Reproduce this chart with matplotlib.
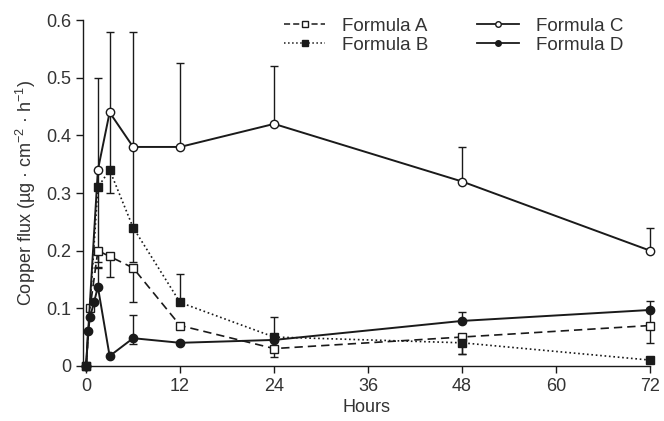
import matplotlib
matplotlib.use("Agg")
import matplotlib.pyplot as plt
from matplotlib.lines import Line2D

plt.rcParams['font.family'] = ['Liberation Sans', 'DejaVu Sans']
plt.rcParams['mathtext.fontset'] = 'custom'
plt.rcParams['mathtext.rm'] = 'Liberation Sans'
plt.rcParams['mathtext.it'] = 'Liberation Sans'

# Formula A (open square, dashed)
t_a = [0, 0.5, 1.5, 3, 6, 12, 24, 48, 72]
v_a = [0, 0.10, 0.20, 0.19, 0.17, 0.07, 0.03, 0.05, 0.07]
err_a_lo = [0, 0, 0.03, 0.035, 0.06, 0.0, 0.015, 0.03, 0.03]
err_a_hi = [0, 0, 0.0, 0.0, 0.0, 0.0, 0.0, 0.0, 0.03]

# Formula B (filled square, dotted)
t_b = [0, 1.5, 3, 6, 12, 24, 48, 72]
v_b = [0, 0.31, 0.34, 0.24, 0.11, 0.05, 0.04, 0.01]
err_b_lo = [0, 0, 0, 0, 0, 0, 0.02, 0]
err_b_hi = [0, 0, 0, 0, 0.05, 0.035, 0, 0]

# Formula C (open circle, solid)
t_c = [0, 1.5, 3, 6, 12, 24, 48, 72]
v_c = [0, 0.34, 0.44, 0.38, 0.38, 0.42, 0.32, 0.20]
err_c_lo = [0, 0.16, 0.14, 0.20, 0.0, 0.0, 0.0, 0.0]
err_c_hi = [0, 0.16, 0.14, 0.20, 0.145, 0.10, 0.06, 0.04]

# Formula D (filled circle, solid)
t_d = [0, 0.25, 0.5, 1, 1.5, 3, 6, 12, 24, 48, 72]
v_d = [0, 0.06, 0.085, 0.11, 0.137, 0.017, 0.048, 0.04, 0.045, 0.078, 0.097]
err_d_lo = [0, 0, 0, 0, 0, 0, 0.01, 0, 0, 0, 0]
err_d_hi = [0, 0, 0, 0, 0.035, 0, 0.04, 0, 0, 0.015, 0.015]

x_ticks = [0, 12, 24, 36, 48, 60, 72]
y_ticks = [0, 0.1, 0.2, 0.3, 0.4, 0.5, 0.6]
y_tick_labels = ['0', '0.1', '0.2', '0.3', '0.4', '0.5', '0.6']

ink = '#1a1a1a'
txt_col = '#333333'

fig = plt.figure(figsize=(6.64, 4.21), dpi=100)
ax = fig.add_axes([0.125, 0.131, 0.854, 0.821])

common = dict(color=ink, ecolor=ink, elinewidth=1.0, capsize=3, capthick=1.0,
              markersize=6, clip_on=False)

ax.errorbar(t_a, v_a, yerr=[err_a_lo, err_a_hi], fmt='s', linestyle=(0, (5, 3)),
            lw=1.2, mfc='white', mec=ink, **common)
ax.errorbar(t_b, v_b, yerr=[err_b_lo, err_b_hi], fmt='s', linestyle=':',
            lw=1.2, mfc=ink, mec=ink, **common)
ax.errorbar(t_c, v_c, yerr=[err_c_lo, err_c_hi], fmt='o', linestyle='-',
            lw=1.4, mfc='white', mec=ink, **common)
ax.errorbar(t_d, v_d, yerr=[err_d_lo, err_d_hi], fmt='o', linestyle='-',
            lw=1.4, mfc=ink, mec=ink, **common)

ax.set_xlim(-0.4, 72)
ax.set_ylim(0, 0.6)
ax.set_xticks(x_ticks)
ax.set_yticks(y_ticks)
ax.set_yticklabels(y_tick_labels)
ax.spines['top'].set_visible(False)
ax.spines['right'].set_visible(False)
for s in ['left', 'bottom']:
    ax.spines[s].set_linewidth(1.0)
    ax.spines[s].set_color(ink)
ax.tick_params(direction='out', length=5, width=1.0, colors=ink, labelsize=13,
               labelcolor=txt_col)

ax.set_xlabel('Hours', fontsize=13, color=txt_col, labelpad=3)
ax.set_ylabel(r'Copper flux (µg · cm$^{-2}$ · h$^{-1}$)', fontsize=13,
              color=txt_col, labelpad=6)

# legend handles: line + marker only, as in the figure
handles = [
    Line2D([], [], color=ink, lw=1.1, linestyle=(0, (4, 2)), marker='s', ms=4, mfc='white', mec=ink),
    Line2D([], [], color=ink, lw=1.1, linestyle=':', marker='s', ms=4, mfc=ink, mec=ink),
    Line2D([], [], color=ink, lw=1.3, linestyle='-', marker='o', ms=4, mfc='white', mec=ink),
    Line2D([], [], color=ink, lw=1.3, linestyle='-', marker='o', ms=4, mfc=ink, mec=ink),
]
labels = ['Formula A', 'Formula B', 'Formula C', 'Formula D']
leg = ax.legend(handles, labels, ncol=2, loc='upper left', bbox_to_anchor=(0.325, 1.056),
                frameon=False, fontsize=13.5, handlelength=2.2, columnspacing=2.6,
                labelspacing=0.1, handletextpad=0.9)
for txt in leg.get_texts():
    txt.set_color(txt_col)

fig.savefig('out.png', dpi=100)
